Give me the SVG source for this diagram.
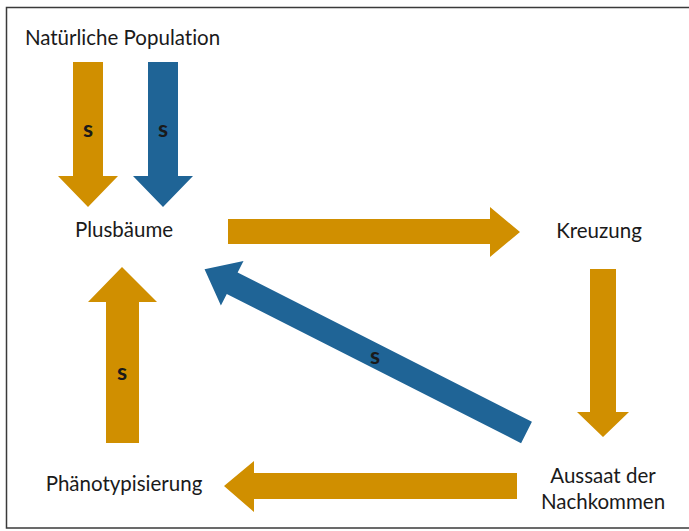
<svg xmlns="http://www.w3.org/2000/svg" width="689" height="531" viewBox="0 0 689 531">
<style>
.lbl{font-family:Lato,"Open Sans","Liberation Sans",sans-serif;font-size:20.5px;fill:#1a1a1a;text-anchor:middle;font-variant-ligatures:none;font-feature-settings:"liga" 0}
.s{font-family:Lato,"Open Sans","Liberation Sans",sans-serif;font-size:23px;font-weight:bold;fill:#1a1a1a;text-anchor:middle}
.o{fill:#D08F00}
.b{fill:#1F6496}
</style>
<rect x="0" y="0" width="689" height="531" fill="#fff"/>
<rect x="6.5" y="7.5" width="684" height="520.5" fill="none" stroke="#3a3a3a" stroke-width="1.5"/>
<g id="node-natuerliche"><text class="lbl" x="122.5" y="45">Natürliche Population</text></g>
<g id="node-plusbaeume"><text class="lbl" x="124" y="237">Plusbäume</text></g>
<g id="node-kreuzung"><text class="lbl" x="599" y="238">Kreuzung</text></g>
<g id="node-aussaat"><text class="lbl" x="603" y="483">Aussaat der</text><text class="lbl" x="603" y="508.5">Nachkommen</text></g>
<g id="node-phaeno"><text class="lbl" x="124" y="491">Phänotypisierung</text></g>
<g id="connectors">
<polygon class="o" points="73,62 103,62 103,176 118,176 88,207 58,176 73,176"/>
<text class="s" x="88" y="137">s</text>
<polygon class="b" points="148,62 178,62 178,176 193,176 163,207 133,176 148,176"/>
<text class="s" x="163" y="137">s</text>
<polygon class="o" points="228,219 490,219 490,207 520,232 490,257 490,244 228,244"/>
<polygon class="o" points="590,269 616,269 616,412 629,412 603,437 577,412 590,412"/>
<polygon class="o" points="517,473 517,499 254,499 254,512 224,486 254,461 254,473"/>
<polygon class="o" points="106,443 139,443 139,302 157,302 122,267 88,302 106,302"/>
<text class="s" x="122" y="380">s</text>
<polygon class="b" transform="translate(526.5,432.5) rotate(26.9)" points="0,-12 -330,-12 -330,-25 -361,0 -330,25 -330,12 0,12"/>
<text class="s" x="375" y="364">s</text>
</g>
</svg>
